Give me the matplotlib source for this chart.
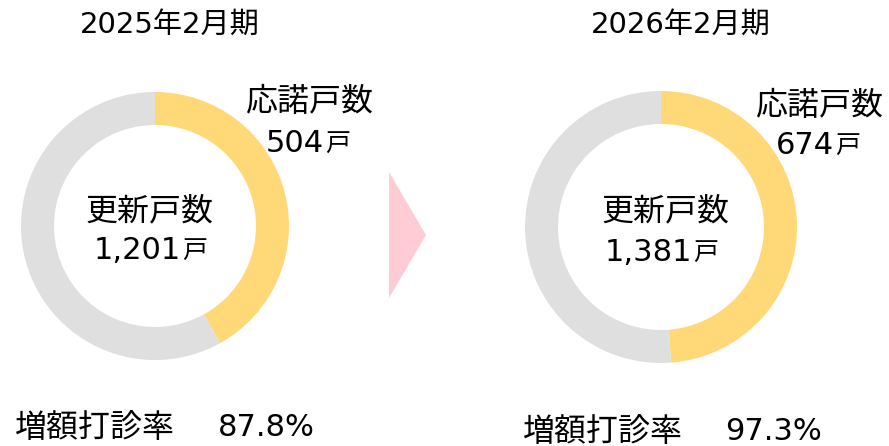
import matplotlib.pyplot as plt

# wide Latin digits (like Meiryo), CJK glyphs fall through to Noto
plt.rcParams['font.family'] = ['DejaVu Sans', 'Noto Sans CJK JP']

# data
periods = ["2025年2月期", "2026年2月期"]
renewals = [1201, 1381]
accepted = [504, 674]
increase_rate = ["87.8%", "97.3%"]

YELLOW = "#FFD878"
GRAY = "#DEDFDE"
H = 446


def label_with_unit(ax, x, y, number, size=22, unit_size=18):
    # number right of x, small 戸 left of x, on one baseline
    ax.text(x, y, number, fontsize=size, ha="right", va="baseline")
    ax.text(x + 1, y, "戸", fontsize=unit_size, ha="left", va="baseline")


def plot_donuts():
    fig = plt.figure(figsize=(8.89, 4.46), dpi=100)
    ax = fig.add_axes([0, 0, 1, 1])

    centers = [(155, 226), (661, 227)]
    radii = [134, 136]
    title_x = [170, 681]
    inner_unit = [(181, 259), (692, 261)]
    acc_head = [(309, 103), (819, 106)]
    acc_unit = [(324, 152), (834, 154)]
    rate_pos = [(15, 218, 428), (523, 725, 432)]

    for i in range(2):
        cx, cy = centers[i]
        ax.pie([accepted[i], renewals[i] - accepted[i]], colors=[YELLOW, GRAY],
               startangle=90, counterclock=False, radius=radii[i],
               center=(cx, H - cy),
               wedgeprops=dict(width=33, linewidth=0))

        ax.text(title_x[i], H - 25, periods[i], fontsize=21, ha="center", va="center")

        # inner label
        ax.text(cx - 6 + 10 * i, H - 212, "更新戸数", fontsize=23, ha="center", va="center")
        label_with_unit(ax, inner_unit[i][0], H - inner_unit[i][1], f"{renewals[i]:,}")

        # accepted label
        ax.text(acc_head[i][0], H - acc_head[i][1], "応諾戸数", fontsize=23,
                ha="center", va="center")
        label_with_unit(ax, acc_unit[i][0], H - acc_unit[i][1], f"{accepted[i]:,}")

        # rate
        ax.text(rate_pos[i][0], H - rate_pos[i][2], "増額打診率", fontsize=23,
                ha="left", va="center")
        ax.text(rate_pos[i][1], H - rate_pos[i][2], increase_rate[i], fontsize=22,
                ha="left", va="center")

    # arrow between periods
    ax.fill([389, 426, 389], [H - 172, H - 235, H - 298], color="#FFCCD5", lw=0)

    ax.set_xlim(0, 889)
    ax.set_ylim(0, H)
    ax.set_aspect("equal")
    ax.axis("off")

    fig.savefig("out.png", dpi=100)


if __name__ == "__main__":
    plot_donuts()
